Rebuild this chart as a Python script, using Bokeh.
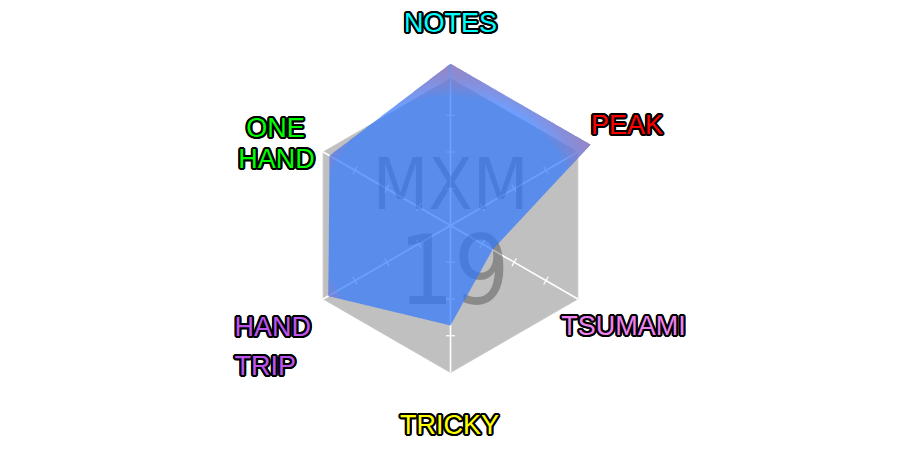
import numpy as np
from bokeh.plotting import figure
from bokeh.models import Range1d, ColumnDataSource
from bokeh.core.properties import value
from bokeh.embed import file_html
from bokeh.resources import INLINE

# ---------------- data ----------------
categories = ["NOTES", "PEAK", "TSUMAMI", "TRICKY", "HAND TRIP", "ONE HAND"]
scores = [110, 110, 33, 68, 96, 95]
scale_max = 100
tick_values = [25, 50, 75]
label_lines = [["NOTES"], ["PEAK"], ["TSUMAMI"], ["TRICKY"], ["HAND", "TRIP"], ["ONE", "HAND"]]
label_colors = ["#00ffff", "#ff0000", "#ee82ee", "#ffff00", "#bb55ee", "#00ff00"]
watermark_lines = ["MXM", "19"]

# ---------------- layout / style ----------------
W, H = 900, 450
PX = 1.47                      # pixels per value unit (scale_max -> 147 px)
n = len(categories)
ang = np.deg2rad(90 - 60 * np.arange(n))
ux, uy = np.cos(ang), np.sin(ang)

def to_data(dx_px, dy_px):
    # screen pixel offsets (right, down) -> data offsets
    return dx_px / PX, -dy_px / PX

p = figure(width=W, height=H, output_backend="svg", toolbar_location=None,
           x_range=Range1d(-W / 2 / PX, W / 2 / PX),
           y_range=Range1d(-H / 2 / PX, H / 2 / PX),
           min_border=0)
p.axis.visible = False
p.grid.visible = False
p.outline_line_color = None
p.background_fill_color = "white"
p.border_fill_color = "white"

# background hexagon
p.patch(list(ux * scale_max), list(uy * scale_max), fill_color="#c0c0c0",
        line_color="#c6c6c6", line_width=1)

# spokes
p.segment(x0=[0] * n, y0=[0] * n, x1=list(ux * scale_max), y1=list(uy * scale_max),
          line_color="white", line_width=1.6)

# ticks (short perpendicular marks)
half = 4.5 / PX
tx0, ty0, tx1, ty1 = [], [], [], []
for i in range(n):
    px_, py_ = -uy[i], ux[i]
    for t in tick_values:
        cx, cy = ux[i] * t, uy[i] * t
        tx0.append(cx - px_ * half); ty0.append(cy - py_ * half)
        tx1.append(cx + px_ * half); ty1.append(cy + py_ * half)
p.segment(x0=tx0, y0=ty0, x1=tx1, y1=ty1, line_color="white", line_width=1.2)

# watermark text
wm_font = value("DejaVu Sans Condensed")
mx, my = to_data(0, -41.5)
p.text(x=[mx], y=[my], text=[watermark_lines[0]], text_font=wm_font,
       text_font_size="72px", text_align="center", text_baseline="middle",
       text_color="black", text_alpha=0.28)
nx, ny = to_data(3.5, 42.5)
p.text(x=[nx], y=[ny], text=[watermark_lines[1]], text_font=wm_font,
       text_font_size="97px", text_align="center", text_baseline="middle",
       text_color="black", text_alpha=0.28)

# data polygon, densely sampled along its straight edges
vals = np.array(scores, dtype=float)
pts = []
for i in range(n):
    j = (i + 1) % n
    p0 = np.array([ux[i] * vals[i], uy[i] * vals[i]])
    p1 = np.array([ux[j] * vals[j], uy[j] * vals[j]])
    for t in np.linspace(0, 1, 90, endpoint=False):
        pts.append(p0 + t * (p1 - p0))
pts = np.array(pts)
rr = np.hypot(pts[:, 0], pts[:, 1])

p.patch(list(pts[:, 0]), list(pts[:, 1]), fill_color="#2f76ff", fill_alpha=0.7,
        line_color=None)

# purple radial fade toward the outside
ring_r = np.linspace(0.88, 1.10, 18) * scale_max
a_each = 1 - 0.3 ** (1 / len(ring_r))
for rk in ring_r:
    f = np.minimum(rr, rk) / rr
    inner = pts * f[:, None]
    xs = list(pts[:, 0]) + list(inner[::-1, 0])
    ys = list(pts[:, 1]) + list(inner[::-1, 1])
    p.patch(xs, ys, fill_color="#b07ab4", fill_alpha=a_each, line_color=None)

# category labels
label_r = 1.375 * scale_max
# per-line (dx, dy) pixel nudges from the label anchor, and alignment
nudges = [[(0, 0)], [(1.5, 0.5)], [(-2, -1)], [(-1, -2.5)],
          [(-41, 0), (-41, 39.5)], [(0, 4), (1, 35)]]
aligns = ["center", "center", "center", "center", "left", "center"]
rows = {"x": [], "y": [], "t": [], "c": [], "a": []}
for i in range(n):
    axp, ayp = ux[i] * label_r, uy[i] * label_r
    for line, (dx, dy) in zip(label_lines[i], nudges[i]):
        ddx, ddy = to_data(dx, dy)
        rows["x"].append(axp + ddx); rows["y"].append(ayp + ddy)
        rows["t"].append(line); rows["c"].append(label_colors[i]); rows["a"].append(aligns[i])
src = ColumnDataSource(rows)
lab_font = value("Liberation Sans")
offs = []
for ox in [-2, -1, 0, 1, 2]:
    for oy in [-2, -1, 0, 1, 2]:
        if (ox, oy) != (0, 0) and ox * ox + oy * oy <= 5:
            offs.append((ox, oy))
for ox, oy in offs:
    p.text(x="x", y="y", text="t", source=src, text_font=lab_font, text_font_size="27px",
           text_align="a", text_baseline="middle", text_color="black",
           x_offset=ox, y_offset=oy)
p.text(x="x", y="y", text="t", source=src, text_font=lab_font, text_font_size="27px",
       text_align="a", text_baseline="middle", text_color="c")

open("out.html", "w").write(file_html(p, INLINE))
